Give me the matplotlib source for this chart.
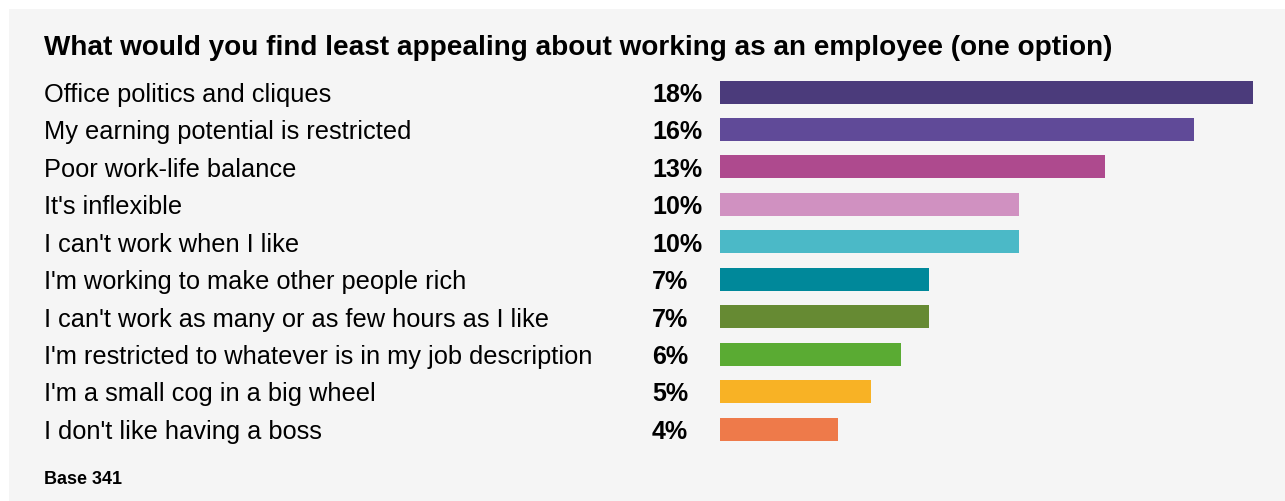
import matplotlib.pyplot as plt
from matplotlib.patches import Rectangle
from matplotlib import transforms

plt.rcParams['font.family'] = ['Liberation Sans', 'DejaVu Sans']

# data
categories = [
    "Office politics and cliques",
    "My earning potential is restricted",
    "Poor work-life balance",
    "It's inflexible",
    "I can't work when I like",
    "I'm working to make other people rich",
    "I can't work as many or as few hours as I like",
    "I'm restricted to whatever is in my job description",
    "I'm a small cog in a big wheel",
    "I don't like having a boss",
]
values = [18.0, 16.0, 13.0, 10.1, 10.1, 7.05, 7.05, 6.1, 5.1, 4.0]
value_labels = ["18%", "16%", "13%", "10%", "10%", "7%", "7%", "6%", "5%", "4%"]
colors = ["#4b3b7b", "#604a98", "#ae4a8e", "#d091c1", "#4bb9c7",
          "#00889a", "#668a33", "#5aab33", "#f8b225", "#ee7a4a"]

W, H = 1285, 502
fig = plt.figure(figsize=(W / 100, H / 100), dpi=100)
fig.patch.set_facecolor("white")

# grey panel
fig.patches.append(Rectangle((9 / W, 0), 1, 1 - 10 / H, transform=fig.transFigure,
                             facecolor="#f5f5f5", edgecolor="none", zorder=-10))

# axes for the bars: x from 720px to 1253px (0..18), rows 93..430px
step = (430 - 93) / 9
top = 93 - step / 2
bottom = 430 + step / 2
ax = fig.add_axes([720 / W, 1 - bottom / H, (1253 - 720) / W, (bottom - top) / H])
ax.set_facecolor("none")
ax.set_zorder(5)
ypos = list(range(len(categories)))
ax.barh(ypos, values, height=23 / step, color=colors, align="center")
ax.set_xlim(0, 18)
ax.set_ylim(len(categories) - 0.5, -0.5)
ax.axis("off")

trans = transforms.blended_transform_factory(fig.transFigure, ax.transData)
for i, (cat, lab) in enumerate(zip(categories, value_labels)):
    ax.text(44 / W, i + 0.05, cat, transform=trans, ha="left", va="center",
            fontsize=18.3, color="black", clip_on=False)
    ax.text(652 / W, i + 0.05, lab, transform=trans, ha="left", va="center",
            fontsize=18, fontweight="bold", color="black", clip_on=False)

fig.text(44 / W, 1 - 48 / H,
         "What would you find least appealing about working as an employee (one option)",
         ha="left", va="center", fontsize=20.1, fontweight="bold", color="black")
fig.text(44 / W, 1 - 480 / H, "Base 341", ha="left", va="center",
         fontsize=13, fontweight="bold", color="black")

fig.savefig("out.png", dpi=100)
